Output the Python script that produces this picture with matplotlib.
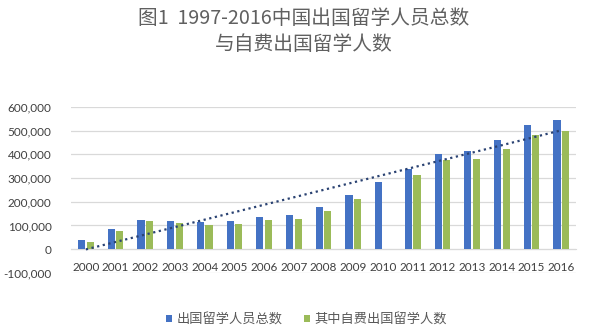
import numpy as np
import matplotlib
matplotlib.use("Agg")
from matplotlib import pyplot as plt
from matplotlib.ticker import FuncFormatter

plt.rcParams['font.family'] = ['Lato', 'Noto Sans CJK SC', 'DejaVu Sans']

# data
years = [str(y) for y in range(2000, 2017)]
total = [39000, 84000, 125000, 117000, 114700, 118500, 134000, 144000, 179800,
         229300, 284700, 339700, 399600, 413900, 459800, 523700, 544500]
selfpaid = [32000, 76000, 117000, 109000, 104000, 107000, 121000, 129000, 161000,
            210000, 0, 314800, 374500, 381300, 423000, 481900, 498200]
label_total = "出国留学人员总数"
label_self = "其中自费出国留学人数"
title1 = "图1  1997-2016中国出国留学人员总数"
title2 = "与自费出国留学人数"

blue = "#4472C4"
green = "#9BBB59"
cjk = ['Noto Sans CJK SC', 'DejaVu Sans']

fig = plt.figure(figsize=(5.97, 3.34), dpi=100)
ax = fig.add_axes([0.119, 0.183, 0.846, 0.497])

x = np.arange(len(years))
w = 0.24
ax.bar(x - 0.145, total, width=w, color=blue, label=label_total, zorder=3)
ax.bar(x + 0.145, selfpaid, width=w, color=green, label=label_self, zorder=3)

# linear trend of the total series (like excel's trendline)
k, b = np.polyfit(x + 1, total, 1)
ax.plot(x, k * (x + 1) + b, linestyle=(0, (1, 1.6)), color="#2A4272", lw=1.6, zorder=4)

ax.set_xlim(-0.5, len(years) - 0.5)
ax.set_ylim(-100000, 600000)
ax.set_yticks(np.arange(-100000, 600001, 100000))
ax.yaxis.set_major_formatter(FuncFormatter(lambda v, p: f"{int(v):,}"))
ax.grid(axis='y', color="#D9D9D9", lw=0.9, zorder=0)
for s in ax.spines.values():
    s.set_visible(False)
ax.spines['bottom'].set_position(('data', 0))
ax.spines['bottom'].set_visible(True)
ax.spines['bottom'].set_color("#D9D9D9")
ax.set_xticks(x)
ax.set_xticklabels(years)
ax.tick_params(axis='x', length=0, pad=9, labelsize=8.5, labelcolor="#404040")
ax.tick_params(axis='y', length=0, pad=14, labelsize=8.5, labelcolor="#404040")

fig.text(0.509, 1 - 19 / 334, title1, ha='center', va='center', fontsize=14.2,
         color="#606060", family=cjk)
fig.text(0.509, 1 - 44 / 334, title2, ha='center', va='center', fontsize=14.2,
         color="#606060", family=cjk)

fig.legend(loc='center', bbox_to_anchor=(0.513, 1 - 320 / 334), ncol=2, frameon=False,
           handlelength=0.45, handleheight=0.45, columnspacing=1.6,
           handletextpad=0.35, labelcolor="#595959",
           prop={'family': cjk, 'size': 9.5})

fig.savefig("out.png", dpi=100)
